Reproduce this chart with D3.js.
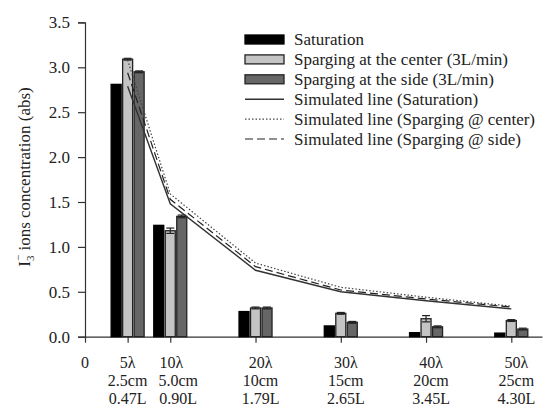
<!DOCTYPE html>
<html><head><meta charset="utf-8">
<script src="https://cdn.jsdelivr.net/npm/d3@7"></script>
<style>body{margin:0;background:#fff}svg{display:block}text{font-family:"Liberation Serif","Times New Roman",serif;fill:#222}</style>
</head><body><svg id="c" width="544" height="406"></svg>
<script>
const positions = [5, 10, 20, 30, 40, 50];
const labelsL1 = ["5λ", "10λ", "20λ", "30λ", "40λ", "50λ"];
const labelsL2 = ["2.5cm", "5.0cm", "10cm", "15cm", "20cm", "25cm"];
const labelsL3 = ["0.47L", "0.90L", "1.79L", "2.65L", "3.45L", "4.30L"];
const saturation = [2.81, 1.24, 0.28, 0.12, 0.045, 0.04];
const spargCenter = [3.09, 1.18, 0.32, 0.26, 0.20, 0.18];
const spargSide = [2.95, 1.34, 0.32, 0.16, 0.11, 0.085];
const errCenter = [0.01, 0.03, 0.01, 0.01, 0.035, 0.01];
const errSide = [0.01, 0.015, 0.01, 0.01, 0.01, 0.01];
const simSaturation = [2.79, 1.48, 0.74, 0.50, 0.40, 0.31];
const simCenter = [3.08, 1.59, 0.82, 0.55, 0.44, 0.34];
const simSide = [2.94, 1.53, 0.78, 0.52, 0.42, 0.33];
const yTicks = [0, 0.5, 1.0, 1.5, 2.0, 2.5, 3.0, 3.5];
const legendLabels = ["Saturation", "Sparging at the center (3L/min)", "Sparging at the side (3L/min)",
  "Simulated line (Saturation)", "Simulated line (Sparging @ center)", "Simulated line (Sparging @ side)"];

const FS = 17, FSX = 16;
const svg = d3.select("#c");
const x = d3.scaleLinear().domain([0, 53.6]).range([85, 542]);
const y = d3.scaleLinear().domain([0, 3.5]).range([336.7, 22.4]);

// y axis
const yAxis = d3.axisLeft(y).tickValues(yTicks).tickFormat(d3.format(".1f")).tickSize(7).tickPadding(8);
const gy = svg.append("g").attr("transform", "translate(85,0)").call(yAxis);
gy.select(".domain").attr("stroke", "#333").attr("stroke-width", 1.2);
gy.selectAll(".tick line").attr("stroke", "#333").attr("stroke-width", 1.2);
gy.selectAll(".tick text").attr("font-size", FS).attr("fill", "#222").style("font-family", '"Liberation Serif",serif');

// x axis
const xAxis = d3.axisBottom(x).tickValues([0].concat(positions)).tickFormat("").tickSize(6).tickSizeOuter(0);
const gx = svg.append("g").attr("transform", "translate(0,336.7)").call(xAxis);
gx.select(".domain").attr("stroke", "#333").attr("stroke-width", 1.2);
gx.selectAll(".tick line").attr("stroke", "#333").attr("stroke-width", 1.2);

// x labels (first groups nudged to avoid overlap, as in the original)
const labelShift = (i, li) => i === 0 ? 0 : (i === 1 ? (li === 0 ? 1 : 8) : 5);
svg.append("text").attr("x", x(0)).attr("y", 367.5).attr("text-anchor", "middle").attr("font-size", FSX).text("0");
[labelsL1, labelsL2, labelsL3].forEach((arr, li) => {
  svg.selectAll(null).data(positions).enter().append("text")
    .attr("x", (d, i) => x(d) + labelShift(i, li)).attr("y", 367.5 + li * 18.2).attr("text-anchor", "middle")
    .attr("font-size", FSX).text((d, i) => arr[i]);
});

// y title
const yt = svg.append("text").attr("transform", "translate(30,177) rotate(-90)").attr("text-anchor", "middle").attr("font-size", FS);
yt.append("tspan").text("I");
yt.append("tspan").attr("font-size", 11).attr("dy", 4).text("3");
yt.append("tspan").attr("font-size", 11).attr("dy", -12).attr("dx", -5.5).text("−");
yt.append("tspan").attr("dy", 8).text(" ions concentration (abs)");

// bars
const bw = 10, off = 11.5;
const series = [
  {vals: saturation, fill: "#000", stroke: "#000", dx: -off, err: null},
  {vals: spargCenter, fill: "#c4c4c4", stroke: "#222", dx: 0, err: errCenter},
  {vals: spargSide, fill: "#666", stroke: "#222", dx: off, err: errSide}
];
series.forEach(s => {
  svg.selectAll(null).data(positions).enter().append("rect")
    .attr("x", d => x(d) + s.dx - bw / 2).attr("width", bw)
    .attr("y", (d, i) => y(s.vals[i])).attr("height", (d, i) => y(0) - y(s.vals[i]))
    .attr("fill", s.fill).attr("stroke", s.stroke).attr("stroke-width", 1.3);
  if (s.err) {
    positions.forEach((p, i) => {
      const cx = x(p) + s.dx, v = s.vals[i], e = s.err[i];
      const g = svg.append("g").attr("stroke", "#222").attr("stroke-width", 1.2);
      g.append("line").attr("x1", cx).attr("x2", cx).attr("y1", y(v - e)).attr("y2", y(v + e));
      g.append("line").attr("x1", cx - 4).attr("x2", cx + 4).attr("y1", y(v + e)).attr("y2", y(v + e));
      g.append("line").attr("x1", cx - 4).attr("x2", cx + 4).attr("y1", y(v - e)).attr("y2", y(v - e));
    });
  }
});

// lines
const line = d3.line().x((d, i) => x(positions[i])).y(d => y(d));
const lineSpecs = [
  {vals: simSaturation, dash: null, w: 1.4, c: "#333"},
  {vals: simCenter, dash: "1.5,2", w: 1.2, c: "#444"},
  {vals: simSide, dash: "8,4", w: 1.2, c: "#222"}
];
lineSpecs.forEach(l => {
  svg.append("path").datum(l.vals).attr("d", line).attr("fill", "none")
    .attr("stroke", l.c).attr("stroke-width", l.w).attr("stroke-dasharray", l.dash);
});

// legend
const lx = 245, lw = 39, ly0 = 39.5, ldy = 19.9;
const lg = svg.append("g");
[series[0], series[1], series[2]].forEach((s, i) => {
  lg.append("rect").attr("x", lx).attr("y", ly0 + i * ldy - 4.5).attr("width", lw).attr("height", 9)
    .attr("fill", s.fill).attr("stroke", s.stroke).attr("stroke-width", 1.3);
});
lineSpecs.forEach((l, i) => {
  const yy = ly0 + (i + 3) * ldy;
  lg.append("line").attr("x1", lx).attr("x2", lx + lw).attr("y1", yy).attr("y2", yy)
    .attr("stroke", l.c).attr("stroke-width", l.w).attr("stroke-dasharray", l.dash);
});
legendLabels.forEach((t, i) => {
  lg.append("text").attr("x", 294).attr("y", ly0 + i * ldy + 5.5).attr("font-size", FS).text(t);
});
</script></body></html>
